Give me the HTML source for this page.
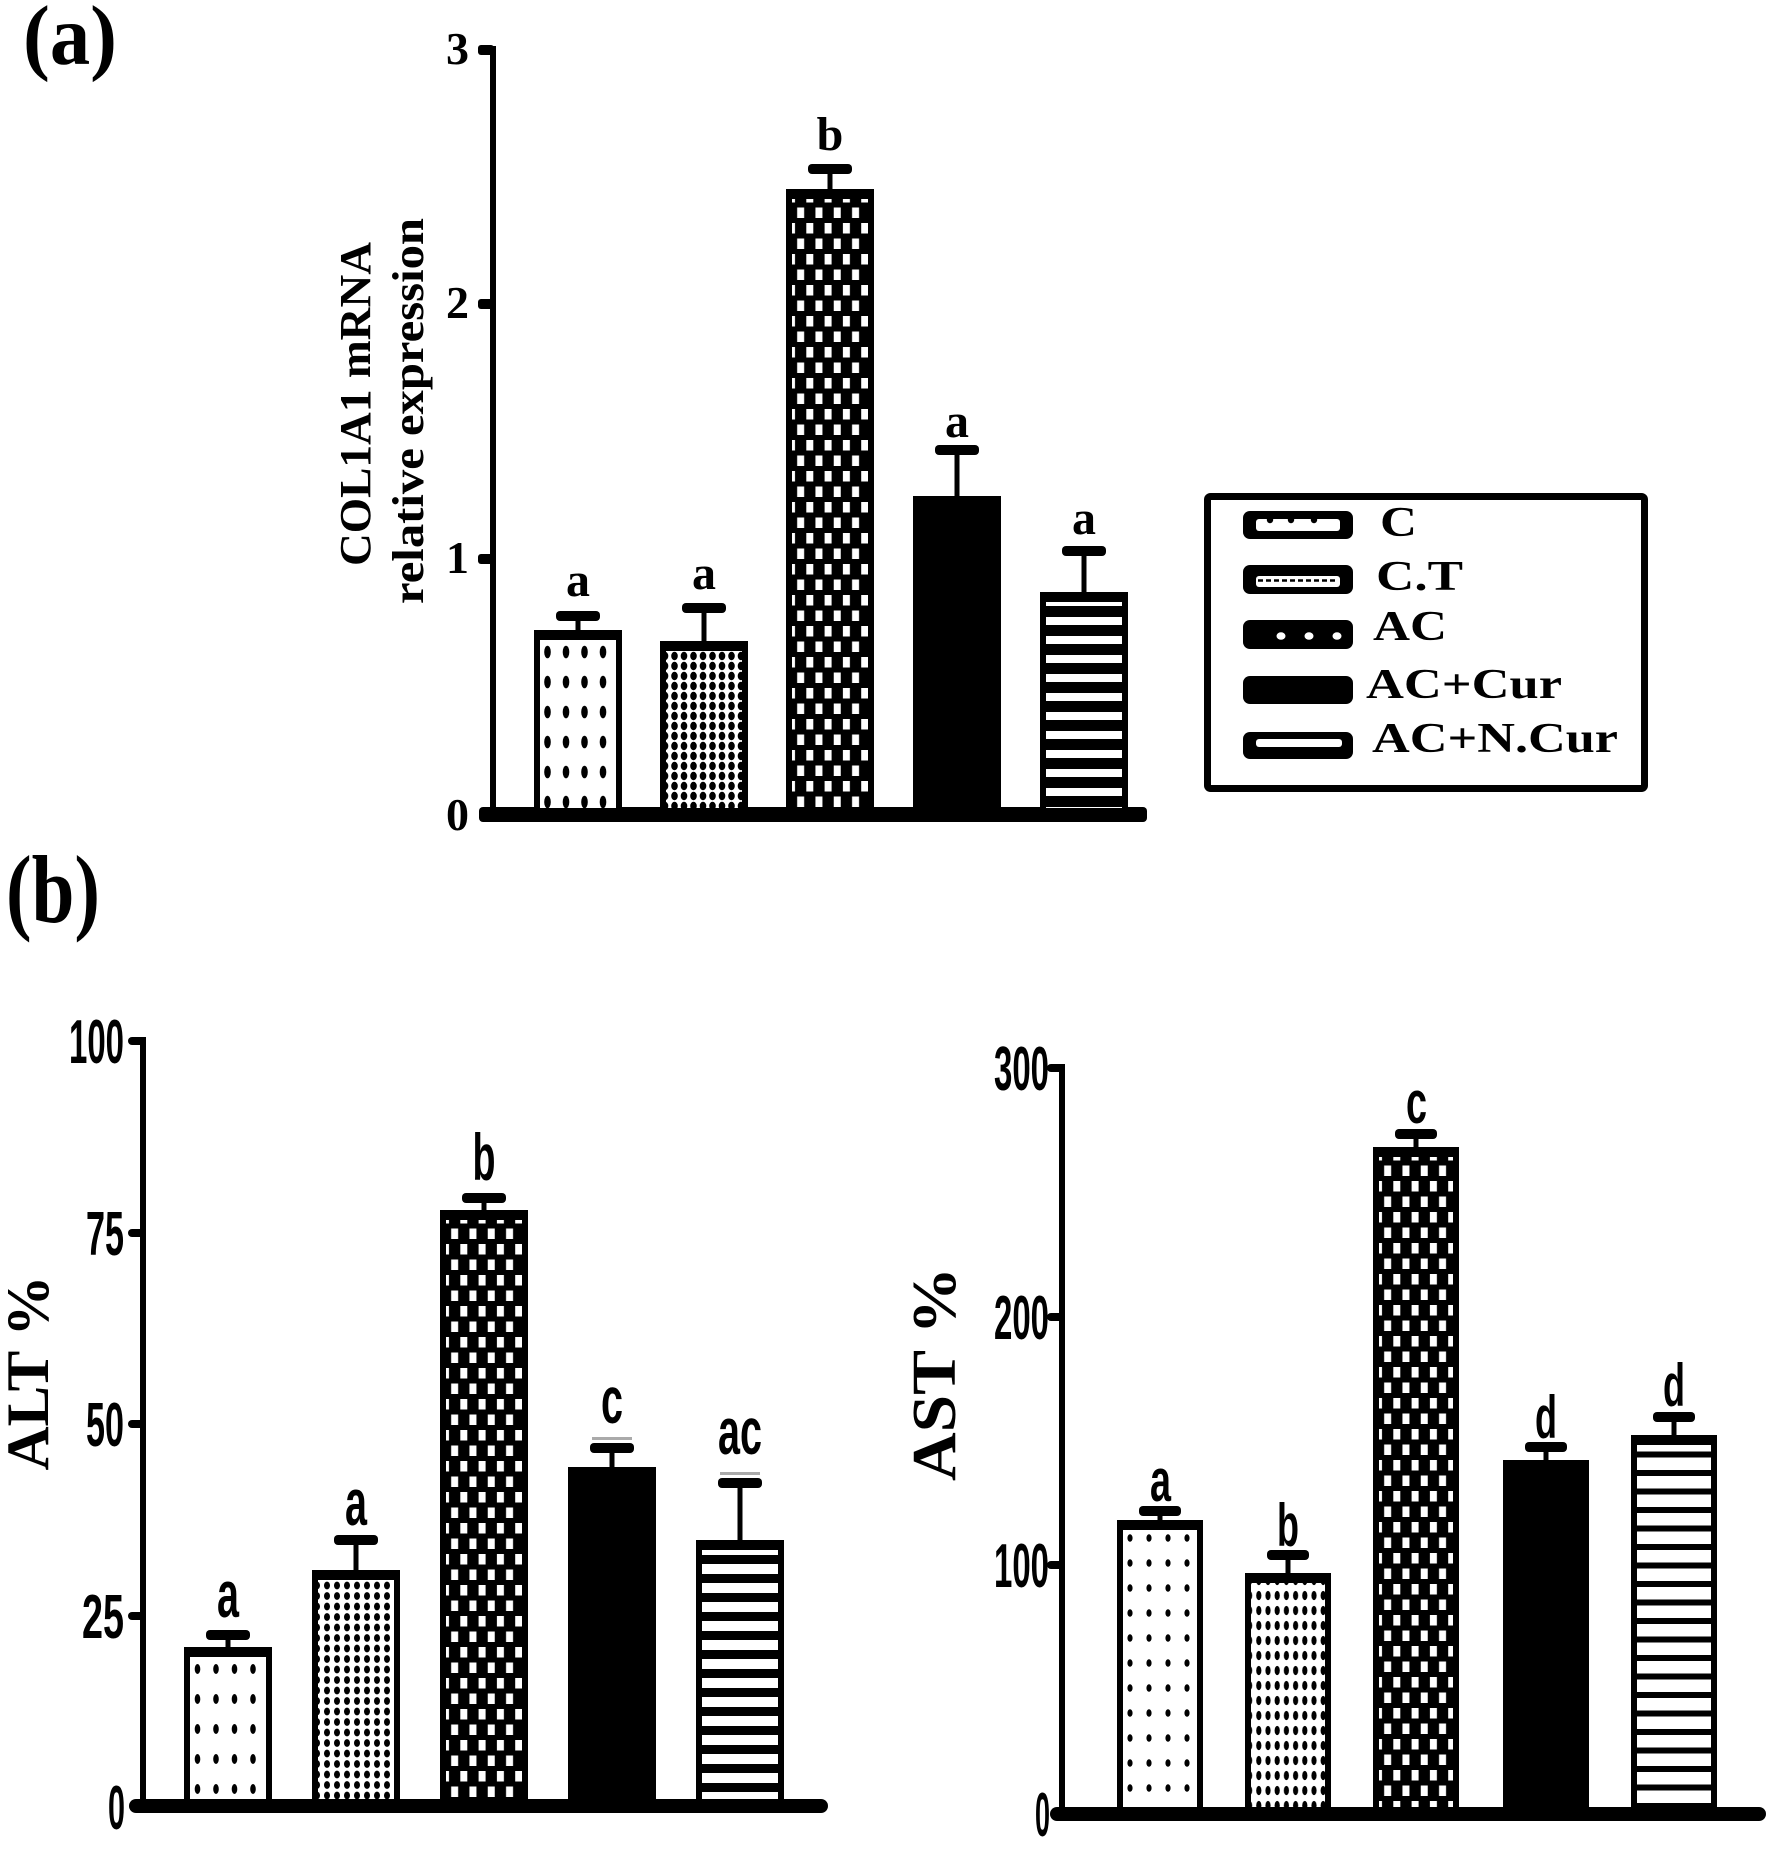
<!DOCTYPE html>
<html><head><meta charset="utf-8"><style>html,body{margin:0;padding:0;background:#fff}svg{display:block}</style></head>
<body>
<svg xmlns="http://www.w3.org/2000/svg" width="1770" height="1850" viewBox="0 0 1770 1850">
<defs>
  <pattern id="pCa" patternUnits="userSpaceOnUse" width="18.5" height="30">
    <rect width="18.5" height="30" fill="#fff"/>
    <ellipse cx="13.5" cy="22" rx="3.3" ry="6.3" fill="#000"/>
  </pattern>
  <pattern id="pCb" patternUnits="userSpaceOnUse" width="18.5" height="30">
    <rect width="18.5" height="30" fill="#fff"/>
    <ellipse cx="13.5" cy="22" rx="2.8" ry="5" fill="#000"/>
  </pattern>
  <pattern id="pCc" patternUnits="userSpaceOnUse" width="19" height="25">
    <rect width="19" height="25" fill="#fff"/>
    <ellipse cx="13" cy="18" rx="2.6" ry="3.8" fill="#000"/>
  </pattern>
  <pattern id="pTa" patternUnits="userSpaceOnUse" width="9.5" height="10">
    <rect width="9.5" height="10" fill="#fff"/>
    <ellipse cx="5" cy="5" rx="3.3" ry="4.2" fill="#000"/>
  </pattern>
  <pattern id="pTb" patternUnits="userSpaceOnUse" width="10" height="10.5">
    <rect width="10" height="10.5" fill="#fff"/>
    <ellipse cx="5" cy="5" rx="3" ry="3.9" fill="#000"/>
  </pattern>
  <pattern id="pTc" patternUnits="userSpaceOnUse" width="9.2" height="15">
    <rect width="9.2" height="15" fill="#fff"/>
    <ellipse cx="4.6" cy="7.5" rx="2.6" ry="4.6" fill="#000"/>
  </pattern>
  <pattern id="pA" patternUnits="userSpaceOnUse" width="18.3" height="31">
    <rect width="18.3" height="31" fill="#000"/>
    <rect x="2" y="3" width="7" height="10.5" fill="#fff"/>
    <rect x="11.15" y="18.5" width="7" height="10.5" fill="#fff"/>
  </pattern>
  <pattern id="pNa" patternUnits="userSpaceOnUse" width="10" height="19">
    <rect width="10" height="19" fill="#000"/>
    <rect x="0" y="6" width="10" height="8" fill="#fff"/>
  </pattern>
  <pattern id="pNb" patternUnits="userSpaceOnUse" width="10" height="19">
    <rect width="10" height="19" fill="#000"/>
    <rect x="0" y="5" width="10" height="10" fill="#fff"/>
  </pattern>
  <pattern id="pNc" patternUnits="userSpaceOnUse" width="10" height="18.5">
    <rect width="10" height="18.5" fill="#000"/>
    <rect x="0" y="4" width="10" height="12.5" fill="#fff"/>
  </pattern>
</defs>
<rect width="1770" height="1850" fill="#fff"/>

<g font-family="'Liberation Serif', serif" font-weight="bold" fill="#000">
  <text x="23" y="64" font-size="85" textLength="94" lengthAdjust="spacingAndGlyphs">(a)</text>
  <text x="6" y="922" font-size="96" textLength="94" lengthAdjust="spacingAndGlyphs">(b)</text>
</g>

<!-- ================= PANEL A ================= -->
<g fill="#000">
  <rect x="490" y="46" width="6" height="769"/>
  <rect x="478" y="45" width="16" height="10" rx="3"/>
  <rect x="478" y="299" width="16" height="10" rx="3"/>
  <rect x="478" y="554" width="16" height="10" rx="3"/>
  <rect x="479" y="807" width="668" height="15" rx="4"/>
</g>
<g font-family="'Liberation Serif', serif" font-weight="bold" font-size="46" text-anchor="end" fill="#000">
  <text x="469" y="64">3</text>
  <text x="469" y="318">2</text>
  <text x="469" y="573">1</text>
  <text x="469" y="830">0</text>
</g>
<g font-family="'Liberation Serif', serif" font-weight="bold" font-size="44" text-anchor="middle" fill="#000">
  <text transform="translate(370,404) rotate(-90)" textLength="324" lengthAdjust="spacingAndGlyphs">COL1A1 mRNA</text>
  <text transform="translate(423,411) rotate(-90)" textLength="386" lengthAdjust="spacingAndGlyphs">relative expression</text>
</g>

<g transform="translate(534,630)"><rect width="88" height="178" fill="#000"/><rect x="6" y="10" width="76" height="168" fill="url(#pCa)"/></g>
<g transform="translate(660,641)"><rect width="88" height="167" fill="#000"/><rect x="6" y="10" width="76" height="157" fill="url(#pTa)"/></g>
<g transform="translate(786,189)"><rect width="88" height="619" fill="#000"/><rect x="6" y="10" width="76" height="609" fill="url(#pA)"/></g>
<g transform="translate(913,496)"><rect width="88" height="312" fill="#000"/></g>
<g transform="translate(1040,592)"><rect width="88" height="216" fill="#000"/><rect x="6" y="10" width="76" height="206" fill="url(#pNa)"/></g>

<g fill="#000">
  <rect x="575.5" y="616" width="5" height="16"/><rect x="556" y="611" width="44" height="10" rx="4"/>
  <rect x="701.5" y="608" width="5" height="35"/><rect x="682" y="603" width="44" height="10" rx="4"/>
  <rect x="827.5" y="169" width="5" height="22"/><rect x="808" y="164" width="44" height="10" rx="4"/>
  <rect x="954.5" y="450" width="5" height="48"/><rect x="935" y="445" width="44" height="10" rx="4"/>
  <rect x="1081.5" y="551" width="5" height="43"/><rect x="1062" y="546" width="44" height="10" rx="4"/>
</g>
<g font-family="'Liberation Serif', serif" font-weight="bold" font-size="48" text-anchor="middle" fill="#000">
  <text x="578" y="596">a</text>
  <text x="704" y="589">a</text>
  <text x="830" y="150">b</text>
  <text x="957" y="437">a</text>
  <text x="1084" y="534">a</text>
</g>

<!-- legend -->
<rect x="1207.5" y="496.5" width="437" height="292" rx="3" fill="#fff" stroke="#000" stroke-width="7"/>
<g fill="#000">
  <rect x="1243" y="511" width="110" height="28" rx="7"/>
  <rect x="1256" y="519" width="84" height="12" rx="3" fill="#fff"/>
  <circle cx="1270" cy="520" r="3.2"/><circle cx="1291" cy="520" r="3.2"/><circle cx="1314" cy="520" r="3.2"/>
  <rect x="1243" y="565" width="110" height="29" rx="7"/>
  <rect x="1256" y="576" width="84" height="11" rx="3" fill="#fff"/>
  <line x1="1258" y1="580.5" x2="1338" y2="580.5" stroke="#000" stroke-width="2.5" stroke-dasharray="5 3"/>
  <rect x="1243" y="620" width="110" height="29" rx="7"/>
  <ellipse cx="1281" cy="636" rx="4.5" ry="3.8" fill="#fff"/>
  <ellipse cx="1309" cy="636" rx="4.5" ry="3.8" fill="#fff"/>
  <ellipse cx="1337" cy="636" rx="4.5" ry="3.8" fill="#fff"/>
  <rect x="1243" y="676" width="110" height="28" rx="7"/>
  <rect x="1243" y="732" width="110" height="27" rx="7"/>
  <rect x="1256" y="739" width="86" height="8" rx="3" fill="#fff"/>
</g>
<g font-family="'Liberation Serif', serif" font-weight="bold" font-size="42" fill="#000">
  <text x="1380" y="536" textLength="37" lengthAdjust="spacingAndGlyphs">C</text>
  <text x="1376" y="590" textLength="87" lengthAdjust="spacingAndGlyphs">C.T</text>
  <text x="1373" y="640" textLength="74" lengthAdjust="spacingAndGlyphs">AC</text>
  <text x="1366" y="698" textLength="196" lengthAdjust="spacingAndGlyphs">AC+Cur</text>
  <text x="1372" y="752" textLength="246" lengthAdjust="spacingAndGlyphs">AC+N.Cur</text>
</g>

<!-- ================= PANEL B: ALT ================= -->
<g fill="#000">
  <rect x="140" y="1037" width="6" height="770"/>
  <rect x="128" y="1037" width="16" height="8" rx="4"/>
  <rect x="128" y="1229" width="16" height="8" rx="4"/>
  <rect x="128" y="1420" width="16" height="8" rx="4"/>
  <rect x="128" y="1612" width="16" height="8" rx="4"/>
  <rect x="129" y="1799" width="699" height="14" rx="7"/>
</g>
<g font-family="'Liberation Sans', sans-serif" font-weight="bold" font-size="62" fill="#000">
  <text x="69" y="1063" textLength="55" lengthAdjust="spacingAndGlyphs">100</text>
  <text x="86" y="1255" textLength="38" lengthAdjust="spacingAndGlyphs">75</text>
  <text x="86" y="1446" textLength="38" lengthAdjust="spacingAndGlyphs">50</text>
  <text x="82" y="1638" textLength="42" lengthAdjust="spacingAndGlyphs">25</text>
  <text x="108" y="1829" textLength="17" lengthAdjust="spacingAndGlyphs">0</text>
</g>
<text transform="translate(48,1373) rotate(-90)" text-anchor="middle" font-family="'Liberation Serif', serif" font-weight="bold" font-size="60" textLength="195" lengthAdjust="spacingAndGlyphs" fill="#000">ALT %</text>

<g transform="translate(184,1647)"><rect width="88" height="152" fill="#000"/><rect x="6" y="10" width="76" height="142" fill="url(#pCb)"/></g>
<g transform="translate(312,1570)"><rect width="88" height="229" fill="#000"/><rect x="6" y="10" width="76" height="219" fill="url(#pTb)"/></g>
<g transform="translate(440,1210)"><rect width="88" height="589" fill="#000"/><rect x="6" y="10" width="76" height="579" fill="url(#pA)"/></g>
<g transform="translate(568,1467)"><rect width="88" height="332" fill="#000"/></g>
<g transform="translate(696,1540)"><rect width="88" height="259" fill="#000"/><rect x="6" y="10" width="76" height="249" fill="url(#pNb)"/></g>

<g fill="#000">
  <rect x="225.5" y="1635" width="5" height="14"/><rect x="206" y="1630" width="44" height="10" rx="4"/>
  <rect x="353.5" y="1540" width="5" height="32"/><rect x="334" y="1535" width="44" height="10" rx="4"/>
  <rect x="481.5" y="1198" width="5" height="14"/><rect x="462" y="1193" width="44" height="10" rx="4"/>
  <rect x="609.5" y="1448" width="5" height="21"/><rect x="590" y="1443" width="44" height="10" rx="4"/>
  <rect x="737.5" y="1483" width="5" height="59"/><rect x="718" y="1478" width="44" height="10" rx="4"/>
  <rect x="592" y="1437" width="40" height="3" fill="#aaa"/>
  <rect x="720" y="1472" width="40" height="3" fill="#aaa"/>
</g>
<g font-family="'Liberation Sans', sans-serif" font-weight="bold" font-size="66" fill="#000">
  <text x="217" y="1617" textLength="22" lengthAdjust="spacingAndGlyphs">a</text>
  <text x="345" y="1525" textLength="22" lengthAdjust="spacingAndGlyphs">a</text>
  <text x="472.5" y="1180" textLength="23" lengthAdjust="spacingAndGlyphs">b</text>
  <text x="601" y="1423" textLength="22" lengthAdjust="spacingAndGlyphs">c</text>
  <text x="718" y="1454" textLength="44" lengthAdjust="spacingAndGlyphs">ac</text>
</g>

<!-- ================= PANEL B: AST ================= -->
<g fill="#000">
  <rect x="1059" y="1064" width="6" height="750"/>
  <rect x="1047" y="1064" width="16" height="8" rx="4"/>
  <rect x="1047" y="1313" width="16" height="8" rx="4"/>
  <rect x="1047" y="1561" width="16" height="8" rx="4"/>
  <rect x="1050" y="1807" width="716" height="14" rx="7"/>
</g>
<g font-family="'Liberation Sans', sans-serif" font-weight="bold" font-size="62" fill="#000">
  <text x="994" y="1090" textLength="55" lengthAdjust="spacingAndGlyphs">300</text>
  <text x="994" y="1339" textLength="55" lengthAdjust="spacingAndGlyphs">200</text>
  <text x="994" y="1587" textLength="55" lengthAdjust="spacingAndGlyphs">100</text>
  <text x="1035" y="1836" textLength="15" lengthAdjust="spacingAndGlyphs">0</text>
</g>
<text transform="translate(955,1374) rotate(-90)" text-anchor="middle" font-family="'Liberation Serif', serif" font-weight="bold" font-size="62" textLength="214" lengthAdjust="spacingAndGlyphs" fill="#000">AST %</text>

<g transform="translate(1117,1520)"><rect width="86" height="287" fill="#000"/><rect x="6" y="10" width="74" height="277" fill="url(#pCc)"/></g>
<g transform="translate(1245,1573)"><rect width="86" height="234" fill="#000"/><rect x="6" y="10" width="74" height="224" fill="url(#pTc)"/></g>
<g transform="translate(1373,1147)"><rect width="86" height="660" fill="#000"/><rect x="6" y="10" width="74" height="650" fill="url(#pA)"/></g>
<g transform="translate(1503,1460)"><rect width="86" height="347" fill="#000"/></g>
<g transform="translate(1631,1435)"><rect width="86" height="372" fill="#000"/><rect x="6" y="10" width="74" height="362" fill="url(#pNc)"/></g>

<g fill="#000">
  <rect x="1157.5" y="1511" width="5" height="11"/><rect x="1139" y="1506" width="42" height="10" rx="4"/>
  <rect x="1285.5" y="1555" width="5" height="20"/><rect x="1267" y="1550" width="42" height="10" rx="4"/>
  <rect x="1413.5" y="1134" width="5" height="15"/><rect x="1395" y="1129" width="42" height="10" rx="4"/>
  <rect x="1543.5" y="1447" width="5" height="15"/><rect x="1525" y="1442" width="42" height="10" rx="4"/>
  <rect x="1671.5" y="1417" width="5" height="20"/><rect x="1653" y="1412" width="42" height="10" rx="4"/>
</g>
<g font-family="'Liberation Sans', sans-serif" font-weight="bold" font-size="60" fill="#000">
  <text x="1150" y="1501" textLength="21" lengthAdjust="spacingAndGlyphs">a</text>
  <text x="1277" y="1546" textLength="22" lengthAdjust="spacingAndGlyphs">b</text>
  <text x="1406" y="1123" textLength="21" lengthAdjust="spacingAndGlyphs">c</text>
  <text x="1535" y="1438" textLength="22" lengthAdjust="spacingAndGlyphs">d</text>
  <text x="1663" y="1406" textLength="22" lengthAdjust="spacingAndGlyphs">d</text>
</g>
</svg>
</body></html>
